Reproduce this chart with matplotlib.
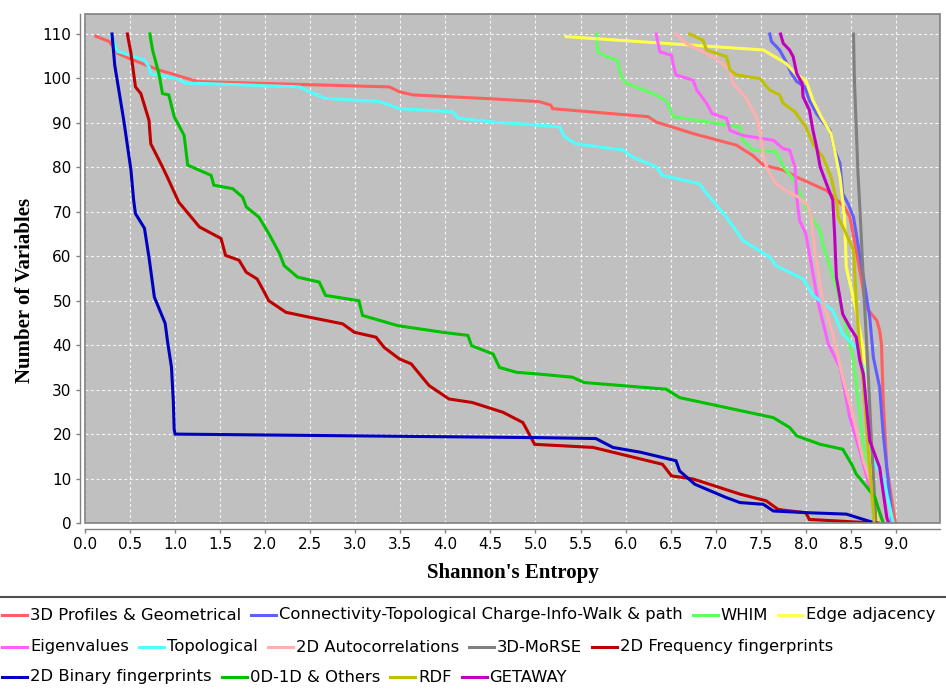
import numpy as np
import matplotlib
matplotlib.use("Agg")
import matplotlib.pyplot as plt
from matplotlib.lines import Line2D
from matplotlib.patches import Rectangle

# ---------------- data ----------------
labels = ["3D Profiles & Geometrical", "Connectivity-Topological Charge-Info-Walk & path",
          "WHIM", "Edge adjacency", "Eigenvalues", "Topological", "2D Autocorrelations",
          "3D-MoRSE", "2D Frequency fingerprints", "2D Binary fingerprints",
          "0D-1D & Others", "RDF", "GETAWAY"]
colors = ["#ff5f5f", "#5f5fff", "#5fff5f", "#ffff50", "#ff5fff", "#50ffff", "#ffafaf",
          "#808080", "#c00000", "#0000c0", "#00c000", "#c0c000", "#c000c0"]

profiles3d_x = [0.12, 0.27, 0.36, 0.49, 0.82, 1.25, 3.38, 3.49, 3.64, 4.53, 5.04, 5.17, 5.19, 6.25,
                6.34, 6.75, 7.23, 7.41, 7.53, 7.75, 7.90, 8.23, 8.43, 8.49, 8.56, 8.62, 8.67, 8.79,
                8.82, 8.84, 8.86, 8.90, 8.99, 9.00]
profiles3d_y = [109.5, 108.3, 105.7, 104.5, 101.9, 99.3, 98.1, 97.0, 96.3, 95.4, 94.8, 94.0, 93.2, 91.4,
                90.2, 87.6, 85.0, 82.7, 80.5, 79.4, 77.8, 74.8, 71.1, 68.8, 61.3, 54.5, 48.5, 45.5,
                43.3, 40.3, 27.5, 12.5, 0.5, 0]

connectivity_x = [7.60, 7.62, 7.71, 7.78, 7.84, 7.90, 7.99, 8.04, 8.12, 8.19, 8.27, 8.32, 8.38, 8.41,
                  8.47, 8.53, 8.56, 8.64, 8.71, 8.75, 8.82, 8.86, 8.93, 8.96]
connectivity_y = [110, 108.3, 106.4, 103.8, 101.1, 99.3, 98.1, 95.1, 92.1, 90.2, 88.3, 83.9, 80.9, 74.1,
                  71.8, 68.8, 65.1, 55.3, 46.3, 37.3, 30.5, 20.0, 6.5, 0]

whim_x = [5.68, 5.69, 5.79, 5.91, 5.95, 6.01, 6.30, 6.45, 6.53, 7.27, 7.30, 7.41, 7.67, 7.75, 7.86,
          7.97, 8.06, 8.16, 8.19, 8.34, 8.45, 8.53, 8.60, 8.67, 8.79, 8.82]
whim_y = [110, 106.0, 104.9, 104.1, 100.4, 98.9, 96.6, 95.1, 91.4, 89.1, 86.1, 83.9, 83.5, 80.1, 77.5,
          72.6, 68.8, 65.8, 62.8, 53.0, 44.0, 36.5, 24.5, 12.5, 3.5, 0]

edge_x = [5.34, 7.53, 7.78, 7.90, 8.00, 8.04, 8.08, 8.17, 8.28, 8.32, 8.38, 8.43, 8.45, 8.56, 8.64,
          8.67, 8.71, 8.75, 8.80]
edge_y = [109.4, 106.4, 103.4, 100.8, 99.6, 97.4, 95.1, 91.4, 87.6, 83.9, 77.8, 68.8, 57.5, 47.8, 38.8,
          27.5, 16.2, 7.2, 0]

eigen_x = [6.34, 6.38, 6.51, 6.53, 6.56, 6.75, 6.79, 6.90, 6.96, 7.12, 7.16, 7.30, 7.64, 7.75, 7.82,
           7.88, 7.90, 7.93, 8.00, 8.08, 8.14, 8.25, 8.38, 8.49, 8.60, 8.71, 8.82, 8.86]
eigen_y = [110, 106, 105.2, 103.0, 100.8, 99.6, 97.4, 94.4, 92.1, 91.0, 88.3, 87.2, 86.1, 84.2, 83.9,
           80.1, 73.3, 68.1, 65.1, 56.1, 49.3, 40.3, 35.0, 23.7, 16.2, 8.0, 2.7, 0]

topo_x = [0.29, 0.36, 0.49, 0.66, 0.71, 0.73, 1.01, 1.12, 1.27, 2.38, 2.49, 2.67, 3.27, 3.49, 4.08,
          4.14, 4.53, 5.04, 5.27, 5.32, 5.45, 5.97, 6.08, 6.34, 6.41, 6.82, 6.90, 7.12, 7.30, 7.60,
          7.67, 7.97, 8.08, 8.30, 8.41, 8.56, 8.64, 8.67, 8.75, 8.86, 8.95, 8.97]
topo_y = [109.6, 106.1, 105.3, 104.1, 102.6, 101.1, 100.0, 98.9, 98.9, 98.1, 97.0, 95.5, 94.8, 93.2, 92.5,
          91.1, 90.2, 89.5, 89.1, 86.9, 85.3, 83.9, 82.3, 80.1, 78.2, 76.3, 74.1, 68.8, 63.6, 59.8,
          57.9, 54.9, 51.2, 47.8, 42.5, 39.5, 35.0, 26.0, 14.0, 10.2, 2.0, 0]

autocorr_x = [6.56, 6.67, 6.82, 7.00, 7.16, 7.19, 7.34, 7.45, 7.49, 7.53, 7.58, 7.67, 7.80, 7.92,
              8.02, 8.06, 8.10, 8.19, 8.30, 8.41, 8.53, 8.64, 8.79, 8.84]
autocorr_y = [110, 107.9, 106.4, 104.5, 101.9, 98.9, 95.5, 91.4, 88.3, 82.3, 79.4, 76.3, 74.5, 73.3,
              71.5, 68.8, 61.3, 50.0, 42.5, 32.7, 23.7, 14.0, 5.0, 0]

morse_x = [8.53, 8.54, 8.56, 8.58, 8.60, 8.62, 8.65, 8.69, 8.73, 8.78]
morse_y = [110, 99.6, 89.1, 78.6, 71.1, 62.8, 50, 35, 18, 0]

freq2d_x = [0.47, 0.51, 0.56, 0.62, 0.71, 0.73, 0.86, 0.93, 1.04, 1.27, 1.51, 1.56, 1.71, 1.79, 1.91,
            1.97, 2.04, 2.23, 2.49, 2.86, 2.99, 3.23, 3.32, 3.49, 3.62, 3.73, 3.82, 4.04, 4.30, 4.64,
            4.86, 4.93, 4.99, 5.64, 6.41, 6.51, 6.75, 7.27, 7.56, 7.69, 7.75, 8.00, 8.04, 8.67, 8.80]
freq2d_y = [110, 105.7, 98.1, 96.6, 90.6, 85.3, 80.1, 77.1, 72.2, 66.6, 64.0, 60.2, 59.1, 56.4, 54.9,
            52.7, 50.0, 47.4, 46.3, 44.8, 42.9, 41.8, 39.5, 36.9, 35.8, 33.1, 30.9, 27.9, 27.1, 24.9,
            22.6, 20.0, 17.7, 17.0, 13.2, 10.6, 9.9, 6.5, 5.0, 3.1, 2.9, 2.3, 0.8, 0.1, 0]

binary2d_x = [0.30, 0.33, 0.43, 0.51, 0.54, 0.56, 0.66, 0.71, 0.77, 0.89, 0.915, 0.96, 0.98, 0.99,
              1.00, 5.04, 5.67, 5.86, 6.17, 6.56, 6.60, 6.77, 7.12, 7.27, 7.53, 7.64, 8.04, 8.45,
              8.64, 8.77]
binary2d_y = [110, 103, 90.6, 79.4, 72.6, 69.6, 66.3, 59.8, 50.8, 44.9, 41.0, 35.0, 27.5, 21.0,
              20.0, 19.2, 19.0, 17.0, 15.9, 14.0, 11.7, 8.7, 5.7, 4.6, 4.2, 2.7, 2.3, 2.0,
              0.8, 0]

others_x = [0.72, 0.75, 0.82, 0.86, 0.93, 0.99, 1.10, 1.14, 1.40, 1.43, 1.64, 1.75, 1.79, 1.93, 2.04,
            2.16, 2.21, 2.36, 2.60, 2.67, 3.04, 3.08, 3.47, 3.97, 4.25, 4.29, 4.53, 4.60, 4.79, 5.04,
            5.41, 5.54, 6.45, 6.60, 7.64, 7.82, 7.90, 8.16, 8.41, 8.51, 8.56, 8.67, 8.77, 8.82, 8.86]
others_y = [110, 106.4, 101.1, 96.6, 96.3, 91.4, 87.2, 80.5, 78.2, 76.0, 75.2, 73.3, 71.1, 68.8, 65.1,
            60.6, 57.9, 55.3, 54.2, 51.2, 50.0, 46.7, 44.4, 42.9, 42.2, 39.9, 38.0, 35.0, 33.9, 33.5,
            32.8, 31.6, 30.1, 28.2, 23.7, 21.5, 19.6, 17.7, 16.6, 13.2, 11.0, 8.3, 5.7, 2.3, 0]

rdf_x = [6.71, 6.86, 6.90, 7.12, 7.16, 7.23, 7.49, 7.60, 7.71, 7.75, 7.88, 8.00, 8.08, 8.19, 8.28,
         8.34, 8.36, 8.45, 8.53, 8.56, 8.60, 8.64, 8.68, 8.72, 8.76]
rdf_y = [110, 108.6, 106.4, 104.9, 101.9, 100.8, 100.0, 97.4, 96.3, 94.4, 92.5, 89.1, 85.3, 82.3, 77.8,
         72.6, 68.8, 65.0, 61.3, 50.0, 38.8, 31.2, 20.0, 10.0, 0]

getaway_x = [7.72, 7.75, 7.82, 7.86, 7.90, 7.96, 7.97, 8.04, 8.08, 8.12, 8.16, 8.23, 8.30, 8.32, 8.34,
             8.41, 8.49, 8.56, 8.60, 8.64, 8.71, 8.82, 8.90, 8.92]
getaway_y = [110, 107.9, 106.4, 104.9, 101.1, 98.9, 95.9, 92.9, 88.3, 84.6, 80.1, 76.3, 72.6, 65.1, 55.3,
             47.0, 44.0, 41.8, 36.5, 33.5, 18.5, 12.5, 1.2, 0]

series = [(profiles3d_x, profiles3d_y), (connectivity_x, connectivity_y), (whim_x, whim_y),
          (edge_x, edge_y), (eigen_x, eigen_y), (topo_x, topo_y), (autocorr_x, autocorr_y),
          (morse_x, morse_y), (freq2d_x, freq2d_y), (binary2d_x, binary2d_y),
          (others_x, others_y), (rdf_x, rdf_y), (getaway_x, getaway_y)]

x_ticks = np.arange(0, 9.01, 0.5)
y_ticks = np.arange(0, 111, 10)

# ---------------- figure ----------------
W, H = 946, 691
fig = plt.figure(figsize=(W / 100, H / 100), dpi=100)
fig.patch.set_facecolor("white")

L, R, T, B = 85, 940, 14, 523
ax = fig.add_axes([L / W, 1 - B / H, (R - L) / W, (B - T) / H])
ax.set_facecolor("#c0c0c0")
ax.set_xlim(0, 9.49)
ax.set_ylim(0, 114.5)

ax.grid(True, color="white", linestyle=(0, (2.5, 2.5)), linewidth=0.8, alpha=0.9)
ax.set_axisbelow(True)

for (xs, ys), c in zip(series, colors):
    ax.plot(xs, ys, color=c, lw=2.2, solid_joinstyle="miter", zorder=3)

ax.set_xticks(x_ticks)
ax.set_xticklabels([f"{v:.1f}" for v in x_ticks])
ax.set_yticks(y_ticks)
ax.set_yticklabels([f"{v:d}" for v in y_ticks])
ax.tick_params(direction="out", length=3, width=1, color="#808080",
               labelsize=11, pad=3)

for s in ["top", "right"]:
    ax.spines[s].set_visible(False)
ax.spines["left"].set_position(("outward", 3.6))
ax.spines["bottom"].set_position(("outward", 4.3))
for s in ["left", "bottom"]:
    ax.spines[s].set_color("#808080")
    ax.spines[s].set_linewidth(1)
ax.add_patch(Rectangle((0, 0), 1, 1, transform=ax.transAxes, fill=False,
                       edgecolor="#808080", lw=1.2, zorder=5, clip_on=False))

fig.text(25 / W, 1 - 290 / H, "Number of Variables", rotation=90, ha="center", va="center",
         family="Liberation Serif", fontweight="bold", fontsize=15)
fig.text((L + R) / 2 / W, 1 - 573 / H, "Shannon's Entropy", ha="center", va="center",
         family="Liberation Serif", fontweight="bold", fontsize=15)

# ---------------- legend ----------------
fig.add_artist(Line2D([0, 1], [1 - 597 / H, 1 - 597 / H], color="#505050", lw=1.5,
                      transform=fig.transFigure))
renderer = fig.canvas.get_renderer()
rows = [[0, 1, 2, 3], [4, 5, 6, 7, 8], [9, 10, 11, 12]]
row_y = [615, 647, 677]
for r, idxs in enumerate(rows):
    x = 2
    yy = 1 - row_y[r] / H
    for i in idxs:
        fig.add_artist(Line2D([x / W, (x + 25) / W], [yy, yy], color=colors[i], lw=2.2,
                              transform=fig.transFigure))
        t = fig.text((x + 28) / W, yy, labels[i], ha="left", va="center",
                     family="DejaVu Sans", fontsize=11.8)
        bb = t.get_window_extent(renderer)
        x = bb.x1 + 10

fig.savefig("out.png", dpi=100, facecolor="white")
